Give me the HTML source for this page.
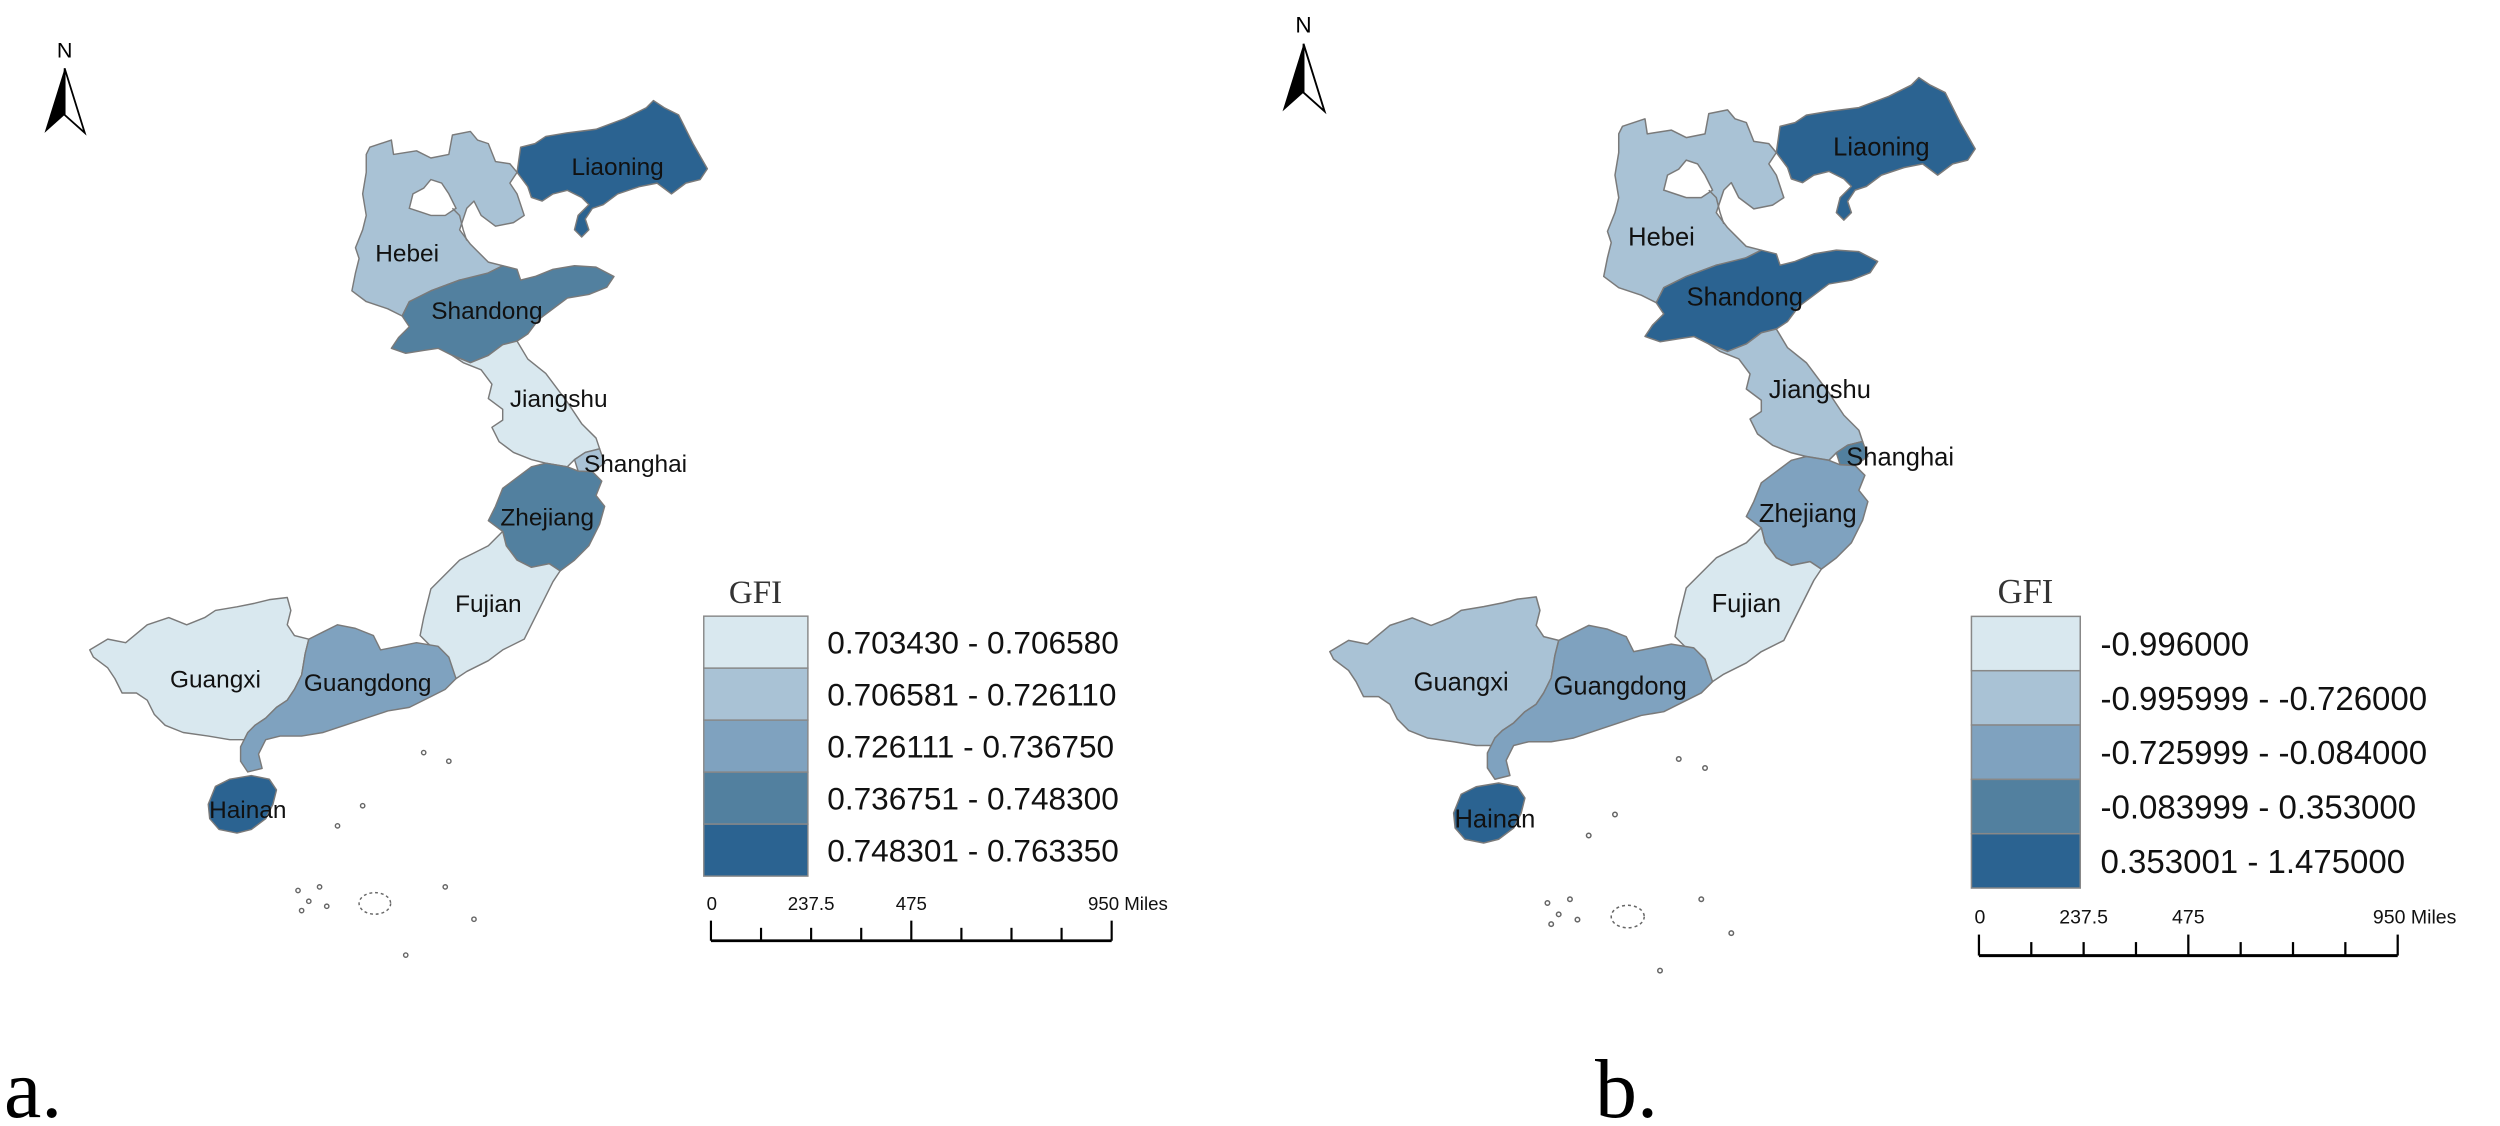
<!DOCTYPE html>
<html><head><meta charset="utf-8"><style>
html,body{margin:0;padding:0;background:#fff;}
svg{display:block;}
.pl{font-family:"Liberation Sans",sans-serif;fill:#111;}
</style></head><body>
<svg id="fig" width="2500" height="1126" viewBox="0 0 2500 1126" xmlns="http://www.w3.org/2000/svg">
<rect width="2500" height="1126" fill="#fff"/>
<g id="panelA" transform="scale(0.71813)"></g>
<g id="panelB" transform="translate(1236,-27.5) scale(0.75045)"></g>
<text x="4" y="1117" font-family="Liberation Serif, serif" font-size="84">a.</text>
<text x="1595" y="1117" font-family="Liberation Serif, serif" font-size="84">b.</text>
</svg>
<script>
// ---- data ----
const provinces = ["Hebei","Liaoning","Shandong","Jiangshu","Shanghai","Zhejiang","Fujian","Guangxi","Guangdong","Hainan"];
const classesA = [2,5,4,1,2,4,1,1,3,5];
const classesB = [2,5,5,2,4,3,1,2,3,5];
const legendA = ["0.703430 - 0.706580","0.706581 - 0.726110","0.726111 - 0.736750","0.736751 - 0.748300","0.748301 - 0.763350"];
const legendB = ["-0.996000","-0.995999 - -0.726000","-0.725999 - -0.084000","-0.083999 - 0.353000","0.353001 - 1.475000"];
const scaleTicks = ["0","237.5","475","950 Miles"];
const scaleTickValues = [0,237.5,475,950];
const palette = ["#d9e8ef","#a9c2d5","#7fa2bf","#52809f","#2b6391"];

// ---- geometry (panel coordinates) ----
const shapes = {
Hebei:"515,205 545,195 548,215 580,210 600,220 625,215 630,188 655,183 665,195 680,200 690,225 710,228 720,240 710,255 720,270 730,300 715,310 690,315 670,300 660,280 650,290 640,320 655,340 665,350 680,365 700,370 670,385 640,390 600,405 570,420 560,440 540,430 510,420 490,405 495,380 500,360 495,345 505,320 510,300 505,270 510,240 510,215",
Liaoning:"720,240 725,205 745,200 760,190 790,185 830,180 870,165 900,150 910,140 925,150 945,160 955,180 965,200 985,235 975,250 955,255 935,270 915,255 890,260 860,270 840,285 825,290 815,305 820,320 810,330 800,320 805,300 820,285 810,275 790,265 770,270 755,280 740,275 735,260",
Shandong:"560,440 570,420 600,405 640,390 680,380 700,370 720,375 725,390 745,385 770,375 800,370 830,372 855,385 845,400 820,410 790,415 770,430 750,445 735,465 720,475 700,480 680,495 655,505 630,495 610,485 590,488 565,492 545,485 555,470 570,455",
Jiangshu:"630,495 655,505 680,495 700,480 720,475 735,500 760,520 790,560 810,590 830,610 835,625 815,630 800,640 790,650 760,645 740,640 715,630 695,615 685,595 700,585 700,570 680,555 685,535 670,515 645,505",
Shanghai:"800,640 815,630 835,625 842,645 825,657 805,656",
Zhejiang:"760,645 790,650 805,656 825,657 838,670 830,690 842,705 835,730 820,760 800,780 780,795 765,785 740,790 720,780 705,760 700,740 680,725 690,705 700,680 720,665 740,650",
Fujian:"700,740 705,760 720,780 740,790 765,785 780,795 770,810 760,830 745,860 730,890 700,905 680,920 650,935 635,945 620,920 600,900 585,885 590,860 595,840 600,820 620,800 640,780 660,770 680,760",
Guangxi:"125,905 150,890 175,895 205,870 235,860 260,870 285,860 300,850 330,845 355,840 375,835 400,832 405,850 400,870 410,885 430,890 425,910 420,940 410,960 400,975 385,985 370,1000 355,1010 345,1030 320,1030 290,1025 255,1020 230,1010 215,995 205,975 190,965 170,965 160,945 150,930 130,915",
Guangdong:"430,890 450,880 470,870 495,875 520,885 530,905 555,900 580,895 610,900 625,915 635,945 620,960 600,970 570,985 540,990 510,1000 480,1010 450,1020 420,1025 390,1025 370,1030 360,1050 365,1070 345,1075 335,1060 335,1040 345,1020 355,1010 370,1000 385,985 400,975 410,960 420,940 425,910",
Hainan:"300,1095 320,1085 350,1080 375,1085 385,1100 380,1120 370,1140 350,1155 330,1160 305,1155 292,1140 290,1120"
};
const labelPos = {Hebei:[567,352],Liaoning:[860,232],Shandong:[678,432],Jiangshu:[778,555],Shanghai:[885,645],Zhejiang:[762,720],Fujian:[680,840],Guangxi:[300,945],Guangdong:[512,950],Hainan:[345,1127]};
const NS = "http://www.w3.org/2000/svg";
function mk(tag, attrs, parent){const e=document.createElementNS(NS,tag);for(const k in attrs)e.setAttribute(k,attrs[k]);parent.appendChild(e);return e;}

function drawPanel(g, classes, legend){
  // north arrow
  const na = mk("g",{},g);
  
  
  mk("polygon",{points:"62,185 90,95 90,160",fill:"#000"},na);
  mk("polygon",{points:"90,95 118,185 90,160",fill:"#fff",stroke:"#000","stroke-width":"2.5"},na);
  const nt = mk("text",{x:90,y:80,"text-anchor":"middle","font-family":"Liberation Sans, sans-serif","font-size":"30"},na);
  nt.textContent="N";
  // provinces
  provinces.forEach((p,i)=>{
    const poly = mk("polygon",{points:shapes[p],fill:palette[classes[i]-1],stroke:"#7a7a7a","stroke-width":"2","stroke-linejoin":"round"},g);
    
    
  });
  // Beijing hole & Tianjin outline
  const bj = mk("polygon",{points:"575,270 590,262 600,250 615,255 625,270 635,290 620,300 600,300 585,295 570,290",fill:"#fff",stroke:"#7a7a7a","stroke-width":"2"},g);
  
  
  mk("polyline",{points:"630,290 640,300 645,320 650,335",fill:"none",stroke:"#7a7a7a","stroke-width":"2"},g);
  // islands
  const isl = mk("g",{fill:"none",stroke:"#666","stroke-width":"2"},g);
  
  
  [[590,1048],[625,1060],[505,1122],[620,1235],[660,1280],[565,1330],[415,1240],[430,1255],[445,1235],[455,1262],[420,1268],[470,1150]].forEach(d=>mk("circle",{cx:d[0],cy:d[1],r:3},isl));
  mk("ellipse",{cx:522,cy:1258,rx:22,ry:15,"stroke-dasharray":"4 4"},isl);
  // labels
  provinces.forEach(p=>{
    const t = mk("text",{x:labelPos[p][0],y:labelPos[p][1]+12,"text-anchor":"middle","class":"pl","font-size":"34","font-family":"Liberation Sans, sans-serif"},g);
    
    
    t.textContent = p;
  });
  // legend
  const lg = mk("g",{},g);
  
  
  const title = mk("text",{x:1052,y:840,"text-anchor":"middle","font-family":"Liberation Serif, serif","font-size":"46",fill:"#333"},lg);
  
  
  title.textContent="GFI";
  const rowH = 72.4;
  legend.forEach((lab,i)=>{
    const r = mk("rect",{x:980,y:858+i*rowH,width:145,height:rowH,fill:palette[i],stroke:"#888","stroke-width":"2"},lg);
    
    
    const t = mk("text",{x:1152,y:858+i*rowH+rowH/2+16,"font-family":"Liberation Sans, sans-serif","font-size":"44",fill:"#111"},lg);
    
    
    t.textContent=lab;
  });
  // scale bar
  const sb = mk("g",{},g);
  
  
  const x0=990, x1=1548, yb=1310;
  const sx = v => x0 + (x1-x0)*v/950;
  mk("line",{x1:x0,y1:yb,x2:x1,y2:yb,stroke:"#000","stroke-width":"4"},sb);
  for(let k=0;k<=8;k++){
    const xx = sx(k*950/8);
    const major = (k===0||k===4||k===8);
    mk("line",{x1:xx,y1:major?1282:1292,x2:xx,y2:yb,stroke:"#000","stroke-width":"3"},sb);
  }
  scaleTicks.forEach((s,i)=>{
    const v = scaleTickValues[i];
    const anchor = i===0?"start":(i===3?"start":"middle");
    const xx = i===3 ? sx(v)-33 : (i===0? sx(v)-6 : sx(v));
    const t = mk("text",{x:xx,y:1267,"text-anchor":anchor,"font-family":"Liberation Sans, sans-serif","font-size":"26",fill:"#111"},sb);
    
    
    t.textContent=s;
  });
}
drawPanel(document.getElementById('panelA'), classesA, legendA);
drawPanel(document.getElementById('panelB'), classesB, legendB);
</script>
</body></html>
